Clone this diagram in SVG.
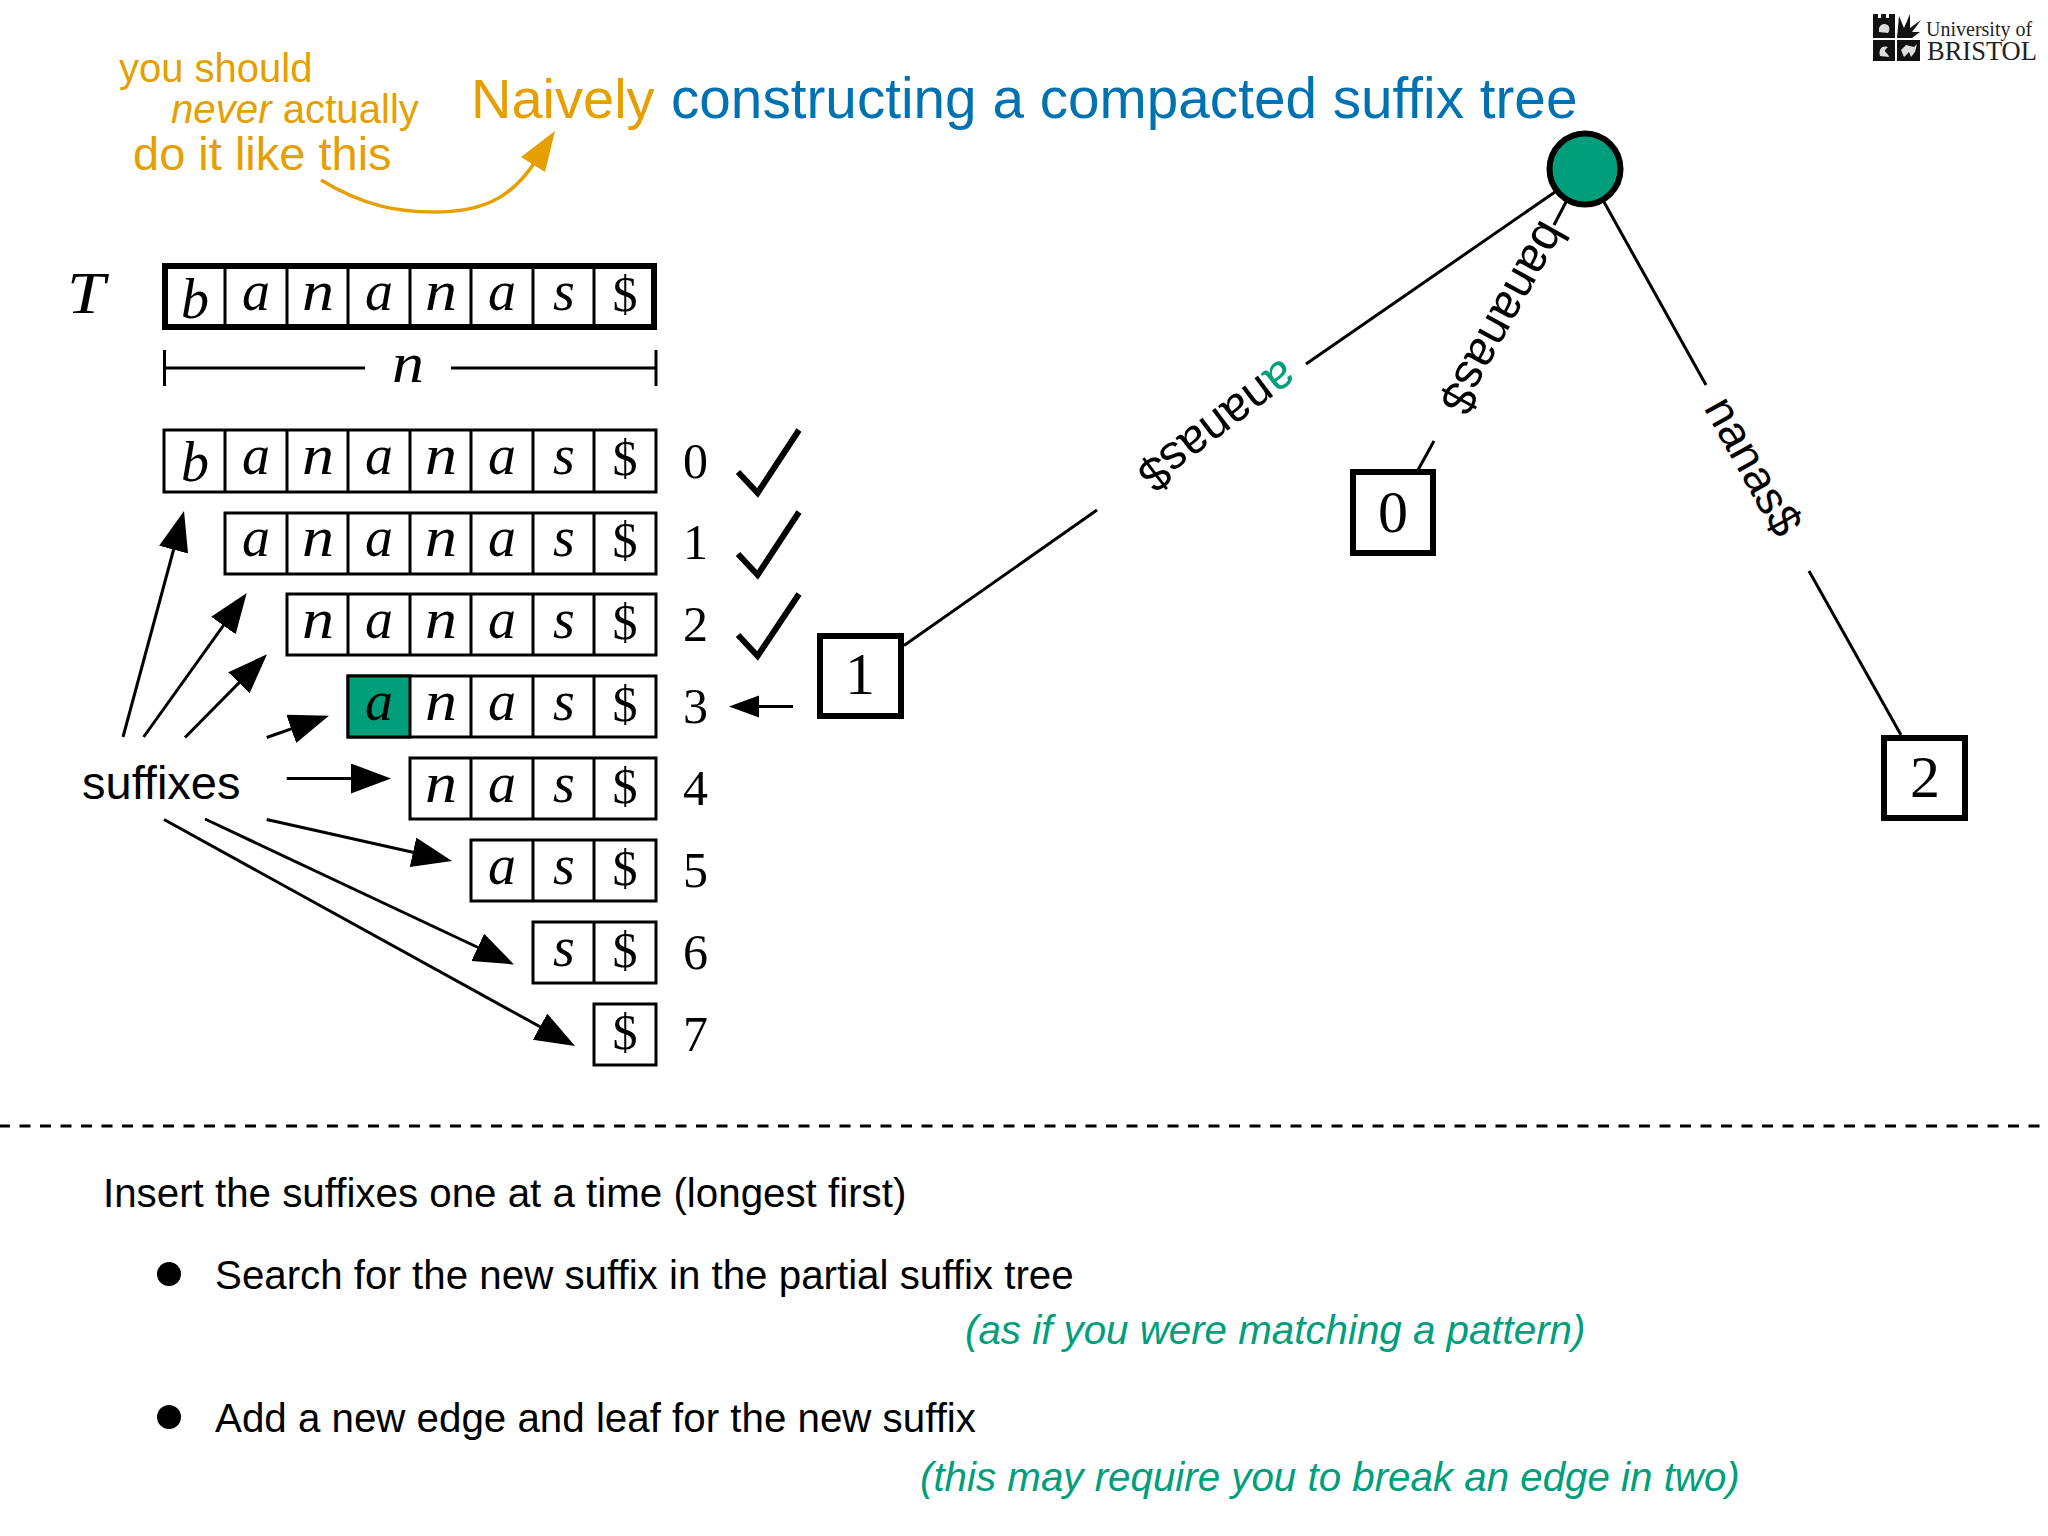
<svg xmlns="http://www.w3.org/2000/svg" width="2048" height="1536" viewBox="0 0 2048 1536">
<style>
text{font-family:"Liberation Sans",Arial,sans-serif}
.m{font-family:"Liberation Serif","Times New Roman",serif;font-style:italic;font-size:56px;text-anchor:middle;fill:#000}
.s{font-family:"Liberation Serif","Times New Roman",serif;font-size:50px;text-anchor:middle;fill:#000}
.d{font-family:"Liberation Serif","Times New Roman",serif;font-size:50px;text-anchor:middle;fill:#000}
.l{font-family:"Liberation Serif","Times New Roman",serif;font-size:60px;text-anchor:middle;fill:#000}
.cell{fill:#fff;stroke:#000;stroke-width:3}
.div{stroke:#000;stroke-width:3;fill:none}
.thick{fill:none;stroke:#000;stroke-width:6}
.e{stroke:#000;stroke-width:3;fill:none}
.a{stroke:#000;stroke-width:3;fill:none;marker-end:url(#h)}
.o{fill:#E69F00}
.g{fill:#009E7B}
.lab{font-size:48px;text-anchor:middle;fill:#000}
.chk{fill:none;stroke:#000;stroke-width:6;stroke-linejoin:miter}
.b{font-size:40.3px;fill:#000}
.n{font-size:40.3px;fill:#009E7B;font-style:italic}
.ls{font-family:"Liberation Serif","Times New Roman",serif;fill:#222}
</style>
<defs>
<marker id="h" markerUnits="userSpaceOnUse" markerWidth="44" markerHeight="32" refX="25" refY="15" orient="auto" viewBox="0 0 44 32"><path d="M0 0L40 15L0 30Z" fill="#000"/></marker>
<marker id="hs" markerUnits="userSpaceOnUse" markerWidth="32" markerHeight="24" refX="20" refY="11" orient="auto" viewBox="0 0 32 24"><path d="M0 0L30 11L0 22Z" fill="#000"/></marker>
</defs>
<rect width="2048" height="1536" fill="#fff"/>
<g id="title">
<text x="471" y="117.500" font-size="56" class="o">Naively</text>
<text x="671" y="117.500" font-size="56.700" fill="#0072B2">constructing a compacted suffix tree</text>
</g>
<g id="note">
<text x="119" y="82" font-size="40" class="o">you should</text>
<text x="171" y="123" font-size="40.200" class="o"><tspan font-style="italic">never</tspan> actually</text>
<text x="133" y="170" font-size="47" class="o">do it like this</text>
<path d="M321 180C365 207 400 212 434 212C480 212 510 200 535 162" fill="none" stroke="#E69F00" stroke-width="3.500"/>
<path d="M555 131L521 157L545 172Z" class="o"/>
</g>
<g id="logo">
<rect x="1873" y="18" width="22" height="20" fill="#111"/>
<path d="M1873 14h5v5h-5zM1881 14h5v5h-5zM1889 14h6v5h-6z" fill="#111"/>
<path d="M1897 38L1899 16L1904 28L1910 14L1910 28L1921 20L1912 32L1920 32L1912 38Z" fill="#111"/>
<rect x="1873" y="40" width="22" height="21" fill="#111"/>
<rect x="1897" y="40" width="23" height="21" fill="#111"/>
<path d="M1879 32C1878 26 1882 24 1884 24C1889 24 1891 28 1888 33Z" fill="#ddd"/>
<path d="M1880 56C1878 48 1883 45 1888 47L1885 50C1884 52 1889 54 1889 57Z" fill="#ddd"/>
<path d="M1901 50L1906 45L1914 47L1917 44L1915 52L1911 57L1909 52L1904 57Z" fill="#ddd"/>
<text x="1926" y="36" font-size="20" class="ls">University of</text>
<text x="1927" y="60" font-size="26.500" class="ls" fill="#111">BRISTOL</text>
</g>
<g id="text-T">
<text x="86" y="313" class="l" font-style="italic" font-size="60" textLength="38" lengthAdjust="spacingAndGlyphs">T</text>
<rect x="165" y="266" width="489" height="61" class="thick"/>
<path d="M225 266V327M287 266V327M348 266V327M410 266V327M471 266V327M533 266V327M594 266V327" class="div"/>
<text x="195" y="318" class="m">b</text><text x="256" y="310" class="m">a</text><text x="318" y="310" class="m" textLength="32" lengthAdjust="spacingAndGlyphs">n</text><text x="379" y="310" class="m">a</text><text x="441" y="310" class="m" textLength="32" lengthAdjust="spacingAndGlyphs">n</text><text x="502" y="310" class="m">a</text><text x="564" y="310" class="m">s</text><text x="625" y="311" class="s">$</text>
<path d="M164.500 350V386M656 350V386M165 368H365M451 368H656" class="div"/>
<text x="408" y="382" class="m" textLength="32" lengthAdjust="spacingAndGlyphs">n</text>
</g>
<g id="suffix-0"><rect x="164" y="430" width="492" height="62" class="cell"/><path d="M225 430V492M287 430V492M348 430V492M410 430V492M471 430V492M533 430V492M594 430V492" class="div"/><text x="195" y="481" class="m">b</text><text x="256" y="474" class="m">a</text><text x="318" y="474" class="m" textLength="32" lengthAdjust="spacingAndGlyphs">n</text><text x="379" y="474" class="m">a</text><text x="441" y="474" class="m" textLength="32" lengthAdjust="spacingAndGlyphs">n</text><text x="502" y="474" class="m">a</text><text x="564" y="474" class="m">s</text><text x="625" y="475" class="s">$</text><text x="695.500" y="478" class="d">0</text><path d="M738 472L757.600 493L799 430" class="chk"/></g>
<g id="suffix-1"><rect x="225" y="513" width="431" height="61" class="cell"/><path d="M287 513V574M348 513V574M410 513V574M471 513V574M533 513V574M594 513V574" class="div"/><text x="256" y="556" class="m">a</text><text x="318" y="556" class="m" textLength="32" lengthAdjust="spacingAndGlyphs">n</text><text x="379" y="556" class="m">a</text><text x="441" y="556" class="m" textLength="32" lengthAdjust="spacingAndGlyphs">n</text><text x="502" y="556" class="m">a</text><text x="564" y="556" class="m">s</text><text x="625" y="557" class="s">$</text><text x="695.500" y="559" class="d">1</text><path d="M738 554L757.600 575L799 512" class="chk"/></g>
<g id="suffix-2"><rect x="287" y="594" width="369" height="61" class="cell"/><path d="M348 594V655M410 594V655M471 594V655M533 594V655M594 594V655" class="div"/><text x="318" y="638" class="m" textLength="32" lengthAdjust="spacingAndGlyphs">n</text><text x="379" y="638" class="m">a</text><text x="441" y="638" class="m" textLength="32" lengthAdjust="spacingAndGlyphs">n</text><text x="502" y="638" class="m">a</text><text x="564" y="638" class="m">s</text><text x="625" y="639" class="s">$</text><text x="695.500" y="641" class="d">2</text><path d="M738 635L757.600 656L799 594" class="chk"/></g>
<g id="suffix-3"><rect x="348" y="676" width="308" height="61" class="cell"/><rect x="348" y="676" width="62" height="61" fill="#009E7B" stroke="#000" stroke-width="3"/><path d="M471 676V737M533 676V737M594 676V737" class="div"/><text x="379" y="720" class="m">a</text><text x="441" y="720" class="m" textLength="32" lengthAdjust="spacingAndGlyphs">n</text><text x="502" y="720" class="m">a</text><text x="564" y="720" class="m">s</text><text x="625" y="721" class="s">$</text><text x="695.500" y="723" class="d">3</text></g>
<g id="suffix-4"><rect x="410" y="758" width="246" height="61" class="cell"/><path d="M471 758V819M533 758V819M594 758V819" class="div"/><text x="441" y="802" class="m" textLength="32" lengthAdjust="spacingAndGlyphs">n</text><text x="502" y="802" class="m">a</text><text x="564" y="802" class="m">s</text><text x="625" y="803" class="s">$</text><text x="695.500" y="805" class="d">4</text></g>
<g id="suffix-5"><rect x="471" y="840" width="185" height="61" class="cell"/><path d="M533 840V901M594 840V901" class="div"/><text x="502" y="884" class="m">a</text><text x="564" y="884" class="m">s</text><text x="625" y="885" class="s">$</text><text x="695.500" y="887" class="d">5</text></g>
<g id="suffix-6"><rect x="533" y="922" width="123" height="61" class="cell"/><path d="M594 922V983" class="div"/><text x="564" y="966" class="m">s</text><text x="625" y="967" class="s">$</text><text x="695.500" y="969" class="d">6</text></g>
<g id="suffix-7"><rect x="594" y="1004" width="62" height="61" class="cell"/><text x="625" y="1049" class="s">$</text><text x="695.500" y="1051" class="d">7</text></g>
<g id="suffixes-label"><text x="82" y="799" font-size="47" fill="#000">suffixes</text></g>
<g id="connectors">
<path class="a" d="M123 737L180.100 525.500"/>
<path class="a" d="M143.600 737L238 605.200"/>
<path class="a" d="M185 737.500L256.500 665"/>
<path class="a" d="M266.700 737.500L314.800 720.700"/>
<path class="a" d="M286.700 778.500L376 778.500"/>
<path class="a" d="M266.700 819.500L437.400 857.700"/>
<path class="a" d="M205 819L500.400 958"/>
<path class="a" d="M164 819.500L561.900 1038.800"/>
<path d="M793 706.500L739 706.500" stroke="#000" stroke-width="3" marker-end="url(#hs)"/>
<path class="e" d="M1555 192L1306 364M1097 510L904 645.600"/>
<path class="e" d="M1566 202L1554 225M1434 441L1418 470"/>
<path class="e" d="M1604 202L1706 385M1809 571L1901 735"/>
</g>
<g id="edge-labels">
<text class="lab" transform="translate(1218 426) rotate(143)" y="16"><tspan class="g">a</tspan>nanas$</text>
<text class="lab" transform="translate(1504 318) rotate(119)" y="16">bananas$</text>
<text class="lab" style="font-size:46px" transform="translate(1754 466) rotate(60.900)" y="16">nanas$</text>
</g>
<g id="root"><circle cx="1585" cy="169" r="35.500" fill="#009E7B" stroke="#000" stroke-width="6"/></g>
<g id="leaf-1"><rect x="820" y="636" width="81" height="80" class="thick"/><text x="860" y="694" class="l">1</text></g>
<g id="leaf-0"><rect x="1353" y="472" width="80" height="81" class="thick"/><text x="1393" y="532" class="l">0</text></g>
<g id="leaf-2"><rect x="1884" y="738" width="81" height="80" class="thick"/><text x="1925" y="797" class="l">2</text></g>
<path id="divider" d="M0 1126H2040" stroke="#000" stroke-width="3" stroke-dasharray="11 9.500" stroke-dashoffset="1"/>
<g id="bullets">
<text x="103" y="1207" class="b">Insert the suffixes one at a time (longest first)</text>
<circle cx="169" cy="1274" r="12" fill="#000"/>
<text x="215" y="1289" class="b">Search for the new suffix in the partial suffix tree</text>
<text x="965" y="1344" class="n">(as if you were matching a pattern)</text>
<circle cx="169" cy="1417" r="12" fill="#000"/>
<text x="215" y="1432" class="b">Add a new edge and leaf for the new suffix</text>
<text x="920" y="1491" class="n">(this may require you to break an edge in two)</text>
</g>
</svg>
